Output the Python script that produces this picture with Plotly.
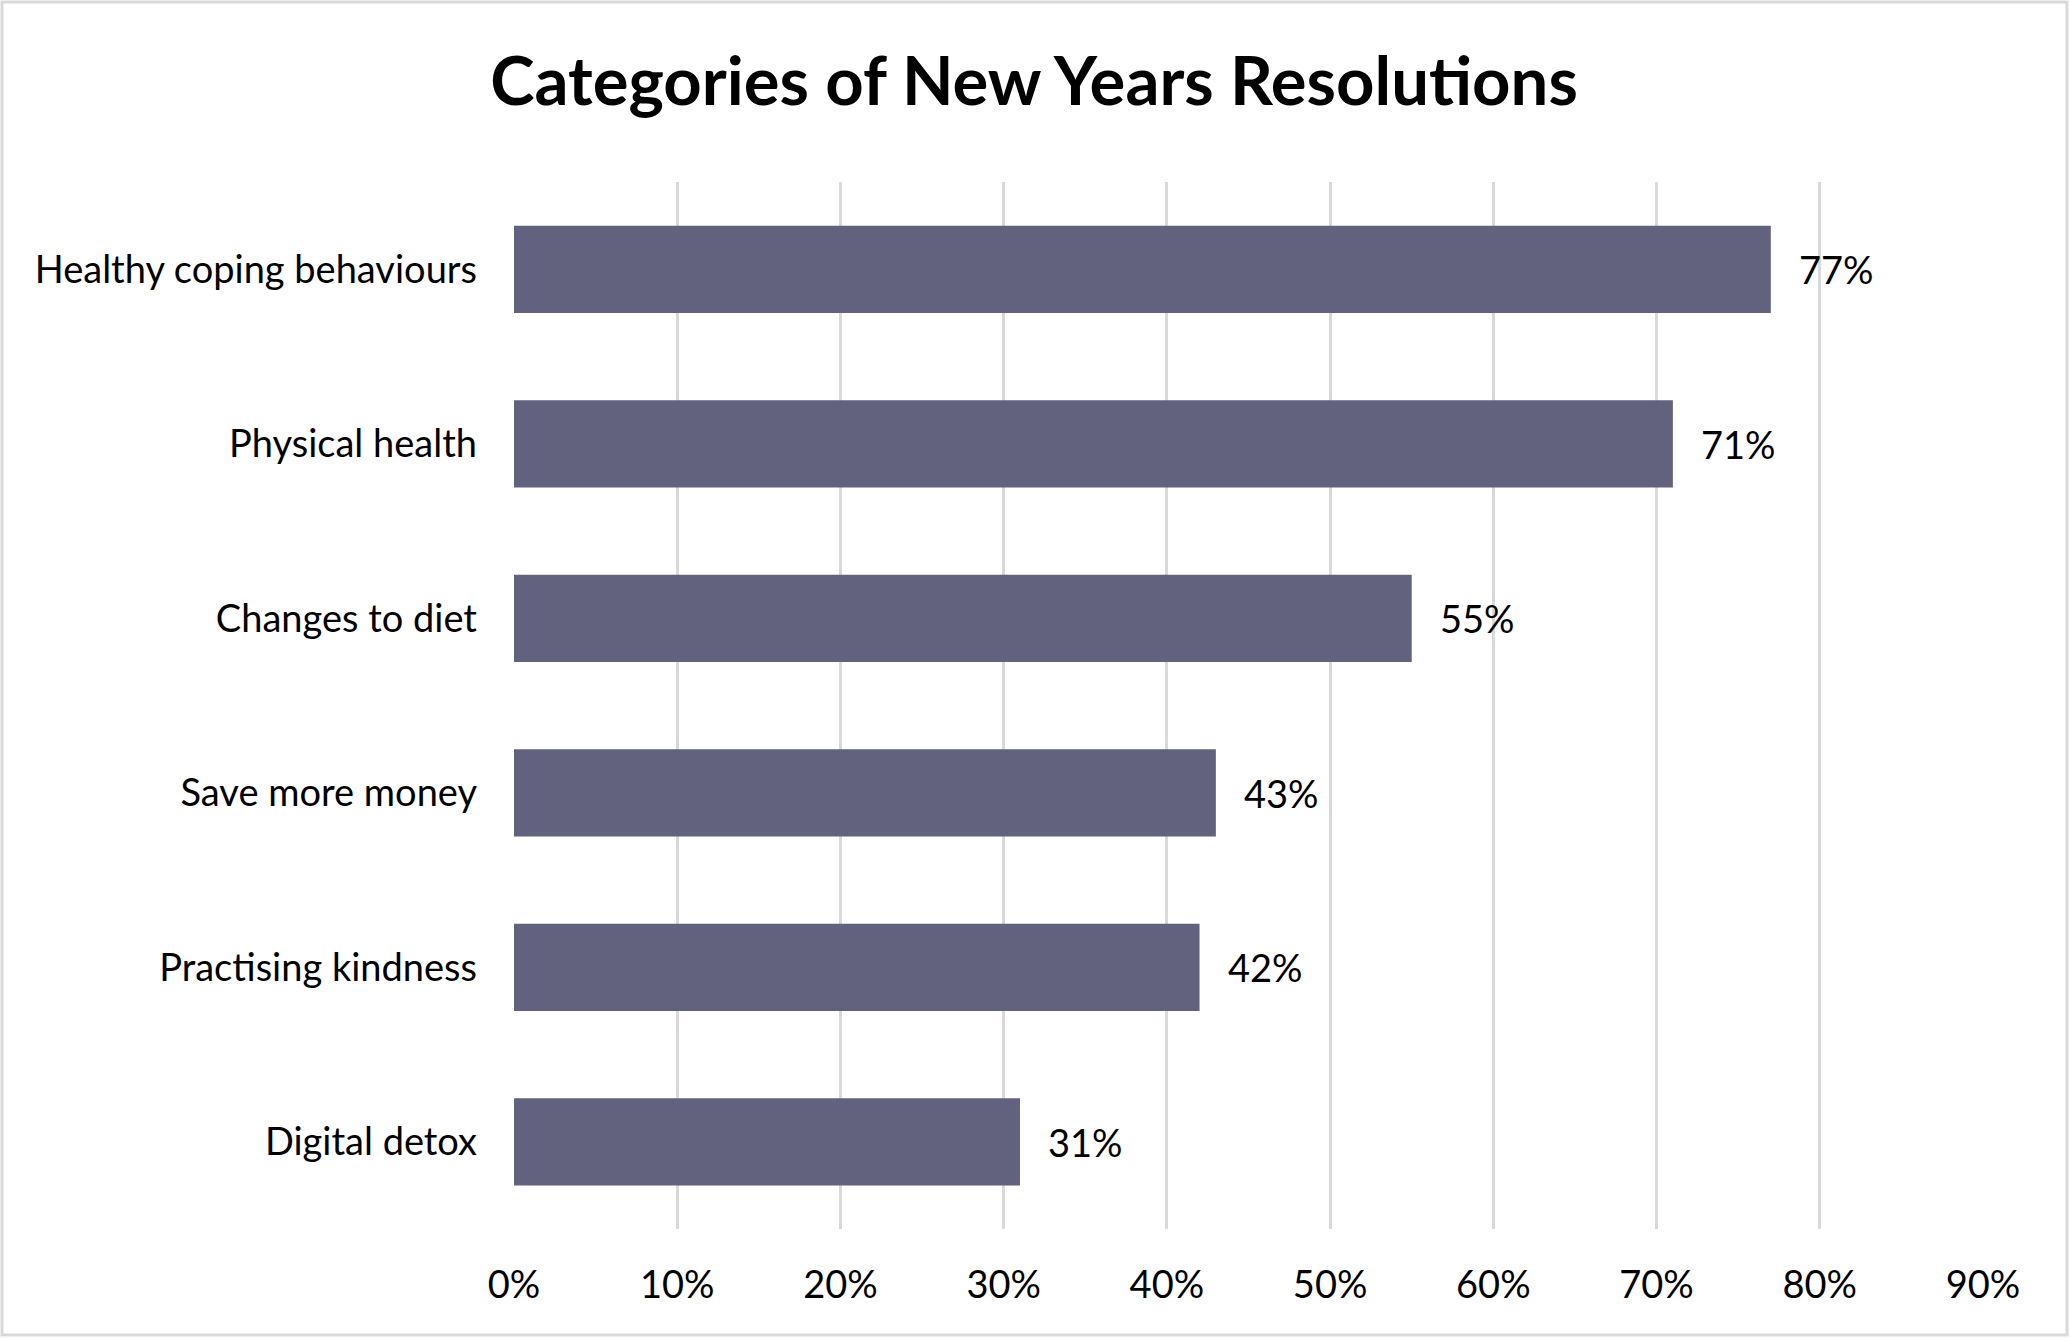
import plotly.graph_objects as go

categories = ["Healthy coping behaviours", "Physical health", "Changes to diet",
              "Save more money", "Practising kindness", "Digital detox"]
values = [77, 71, 55, 43, 42, 31]
tick_vals = [0, 10, 20, 30, 40, 50, 60, 70, 80, 90]
tick_text = [f"{v}%" for v in tick_vals]
label_text = [f"{v}%" for v in values]
title_text = "Categories of New Years Resolutions"

W, H = 2071, 1338
L, R, T, B = 514, 88, 182, 109
pw, ph = W - L - R, H - T - B

FONT = "Lato"
FS = 38

fig = go.Figure()
fig.add_trace(go.Bar(
    x=values, y=categories, orientation="h",
    marker=dict(color="#62627E", line=dict(width=0)),
    width=0.5,
    hoverinfo="skip",
))

for c, v, t in zip(categories, values, label_text):
    fig.add_annotation(x=v, y=c, text=t, xanchor="left", yanchor="middle",
                       xshift=26, showarrow=False,
                       font=dict(family=FONT, size=FS, color="#000000"))

# outer chart border
def px_x(p):
    return (p - L) / pw
def px_y(p):
    return 1 - (p - T) / ph
fig.add_shape(type="rect", xref="paper", yref="paper",
              x0=px_x(2), x1=px_x(W - 4), y0=px_y(H - 3), y1=px_y(2),
              line=dict(color="#D9D9D9", width=3), layer="below")

fig.update_layout(
    width=W, height=H,
    margin=dict(l=L, r=R, t=T, b=B, autoexpand=False),
    paper_bgcolor="white", plot_bgcolor="white",
    showlegend=False,
    title=dict(text="<b>" + title_text + "</b>", x=1034 / W, xref="container",
               xanchor="center", y=1 - 82 / H, yanchor="middle",
               font=dict(family=FONT, size=67, color="#000000")),
    xaxis=dict(range=[0, 90], tickvals=tick_vals, ticktext=tick_text,
               showgrid=True, gridcolor="#D9D9D9", gridwidth=2.7,
               zeroline=False, showline=False, ticks="",
               ticklabelstandoff=30,
               tickfont=dict(family=FONT, size=FS, color="#000000")),
    yaxis=dict(categoryorder="array", categoryarray=categories[::-1],
               showgrid=False, zeroline=False, showline=False, ticks="",
               ticklabelstandoff=36,
               tickfont=dict(family=FONT, size=FS, color="#000000")),
    bargap=0.5,
)

fig.write_html("out.html", config={"displayModeBar": False},
               post_script="document.body.style.margin='0px';document.body.style.overflow='hidden';")
